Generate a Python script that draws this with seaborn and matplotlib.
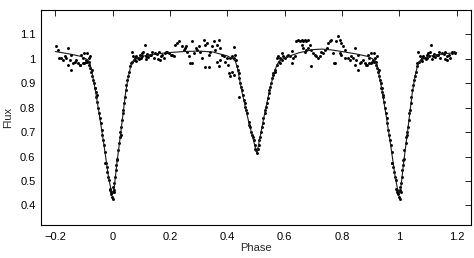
import numpy as np
import pandas as pd
import matplotlib
matplotlib.use("Agg")
import matplotlib.pyplot as plt
import seaborn as sns

ph_egress = [0.001,0.002,0.003,0.005,0.005,0.008,0.010,0.013,0.014,0.016,0.018,0.022,0.024,0.026,0.028,
             0.030,0.032,0.035,0.037,0.039,0.042,0.045,0.047,0.051,0.053,0.057,0.060,0.063,0.068,0.074,0.080]
fx_egress = [0.428,0.476,0.462,0.455,0.490,0.517,0.544,0.565,0.585,0.592,0.626,0.654,0.681,0.702,0.688,
             0.722,0.750,0.777,0.791,0.818,0.845,0.873,0.893,0.914,0.928,0.948,0.969,0.982,0.989,0.996,0.992]

ph_max1 = [0.066,0.072,0.078,0.083,0.089,0.095,0.101,0.104,0.107,0.112,0.118,0.124,0.130,0.138,0.149,0.161,
           0.167,0.173,0.178,0.184,0.190,0.202,0.213,0.219,0.225,0.231,0.242,0.248,0.254,0.257,0.260,0.265,
           0.271,0.277,0.277,0.283,0.289,0.294,0.300,0.306,0.312,0.317,0.321,0.323,0.329,0.335,0.335,0.341,
           0.346,0.352,0.358,0.364,0.370,0.375,0.381,0.364,0.370,0.375,0.387,0.393,0.399,0.404,0.410,0.416,
           0.422,0.424,0.428,0.431,
           0.092,0.098,0.115,0.121,0.135,0.143,0.155,0.158,0.165,0.185,0.195,0.207]
fx_max1 = [1.028,1.010,1.003,1.010,1.003,1.017,1.024,1.010,1.030,1.055,1.010,1.006,1.014,1.030,1.024,1.030,
           1.010,1.017,1.003,1.024,1.030,1.017,1.010,1.058,1.065,1.072,1.051,1.037,1.044,1.051,1.030,1.010,
           0.983,0.983,1.072,1.024,1.044,1.037,1.051,1.030,1.003,1.078,0.965,1.058,1.065,0.965,1.017,1.030,
           1.051,1.072,1.037,1.058,1.078,1.044,1.017,0.989,0.969,0.996,1.010,0.989,1.003,0.976,1.003,1.010,
           1.047,1.003,1.017,0.996,
           0.998,1.005,1.000,1.020,1.015,1.005,1.020,1.000,0.995,1.030,1.022,1.015]

ph_sec = [0.405,0.410,0.416,0.422,0.434,0.437,0.439,0.442,0.445,0.449,0.451,0.442,0.453,0.457,0.460,0.463,
          0.465,0.468,0.474,0.476,0.480,0.483,0.486,0.488,0.492,0.495,0.497,0.501,0.503,0.507,0.509,0.512,
          0.515,0.518,0.521,0.524,0.526,0.530,0.532,0.536,0.538,0.541,0.544,0.546,0.550,0.552,0.555,0.558,
          0.561,0.565,0.567,0.573,0.579,0.584,0.590]
fx_sec = [0.941,0.928,0.948,0.934,0.969,0.955,0.941,0.921,0.900,0.886,0.873,0.845,0.852,0.832,0.818,0.804,
          0.791,0.777,0.743,0.729,0.722,0.702,0.688,0.681,0.667,0.647,0.633,0.626,0.613,0.633,0.647,0.667,
          0.681,0.702,0.722,0.736,0.756,0.777,0.791,0.804,0.818,0.839,0.859,0.873,0.886,0.900,0.921,0.934,
          0.941,0.948,0.955,0.975,0.989,0.982,0.996]

ph_max2 = [0.572,0.578,0.583,0.589,0.595,0.601,0.607,0.612,0.618,0.624,0.624,0.630,0.636,0.641,0.647,0.653,
           0.659,0.665,0.670,0.676,0.682,0.659,0.665,0.670,0.676,0.682,0.688,0.693,0.699,0.705,0.711,0.717,
           0.722,0.691,0.728,0.734,0.740,0.746,0.751,0.757,0.763,0.769,0.772,0.777,0.780,0.786,0.792,0.798,
           0.804,0.809,0.798,0.812,0.821,0.827,0.833,0.838,0.844,0.844,0.850,0.856,0.862,0.867,0.873,0.879,
           0.885,0.856,0.792,0.886,0.889,0.895,0.895,0.901,0.907,0.912,0.916,0.918,0.921]
fx_max2 = [1.003,1.010,1.003,1.024,1.010,1.003,1.010,1.017,1.010,1.033,0.983,1.003,1.010,1.072,1.078,1.072,
           1.078,1.074,1.078,1.072,1.078,1.058,1.044,1.030,1.037,1.044,1.058,1.037,1.024,1.017,1.010,1.003,
           1.010,0.969,1.030,1.024,1.037,1.044,1.065,1.072,1.078,1.024,0.983,0.985,1.072,1.092,1.078,1.065,
           1.051,1.037,1.017,1.003,1.003,0.996,1.010,1.003,1.044,0.976,0.996,0.955,0.983,0.989,0.996,0.983,
           0.976,1.017,1.024,0.976,1.017,1.003,0.983,1.024,0.996,1.024,1.003,0.989,1.010]

ph_ingress = [0.900,0.906,0.912,0.918,0.921,0.926,0.929,0.933,0.935,0.937,0.941,0.943,0.947,0.949,0.952,0.956,
              0.958,0.962,0.964,0.968,0.970,0.973,0.974,0.976,0.979,0.981,0.984,0.987,0.990,0.991,0.993,0.995,
              0.997,0.999,0.928,0.939,0.944]
fx_ingress = [0.982,0.989,0.989,0.975,0.962,0.948,0.928,0.914,0.900,0.880,0.866,0.845,0.825,0.798,0.777,0.756,
              0.736,0.709,0.688,0.667,0.647,0.620,0.572,0.572,0.558,0.537,0.517,0.503,0.469,0.462,0.455,0.448,
              0.455,0.435,0.955,0.880,0.853]

# ---- fitted model over one cycle ----
model_phase = [0.0,0.005,0.015,0.03,0.045,0.055,0.062,0.07,0.08,0.1,0.15,0.2,0.25,0.3,0.35,0.4,0.42,0.428,
               0.435,0.45,0.475,0.503,0.53,0.55,0.565,0.573,0.58,0.6,0.65,0.7,0.73,0.76,0.8,0.85,0.89,0.91,
               0.918,0.925,0.93,0.94,0.955,0.97,0.985,0.995,1.0]
model_flux = [0.452,0.47,0.575,0.715,0.86,0.93,0.965,0.99,1.0,1.01,1.02,1.026,1.03,1.032,1.028,1.012,1.0,0.99,
              0.965,0.87,0.74,0.613,0.775,0.885,0.95,0.975,0.99,1.005,1.025,1.038,1.04,1.037,1.03,1.02,1.01,
              0.998,0.99,0.96,0.93,0.87,0.76,0.645,0.52,0.46,0.452]

x_ticks = [-0.2, 0, 0.2, 0.4, 0.6, 0.8, 1, 1.2]
x_labels = ["\u22120.2", "0", "0.2", "0.4", "0.6", "0.8", "1", "1.2"]
y_ticks = [0.4, 0.5, 0.6, 0.7, 0.8, 0.9, 1.0, 1.1]
y_labels = ["0.4", "0.5", "0.6", "0.7", "0.8", "0.9", "1", "1.1"]

# ---- build the folded display tables (phase -0.2 .. 1.2) ----
base = pd.DataFrame({
    "phase": ph_egress + ph_max1 + ph_sec + ph_max2 + ph_ingress,
    "flux": fx_egress + fx_max1 + fx_sec + fx_max2 + fx_ingress,
})
obs = pd.concat([
    base,
    base[base.phase >= 0.8].assign(phase=lambda d: d.phase - 1),
    base[base.phase <= 0.2].assign(phase=lambda d: d.phase + 1),
], ignore_index=True)

mbase = pd.DataFrame({"phase": model_phase, "flux": model_flux})
model = pd.concat([
    mbase[mbase.phase >= 0.8].assign(phase=lambda d: d.phase - 1),
    mbase,
    mbase[mbase.phase <= 0.2].assign(phase=lambda d: d.phase + 1),
], ignore_index=True).drop_duplicates("phase").sort_values("phase")

# ---- plot ----
sns.set_style("white")
plt.rcParams["font.family"] = ["Liberation Sans", "DejaVu Sans"]

fig = plt.figure(figsize=(4.74, 2.58), dpi=100)
ax = fig.add_axes([41/474, 33/258, 430/474, 215/258])

sns.lineplot(data=model, x="phase", y="flux", sort=False, estimator=None,
             color="#1a1a1a", linewidth=0.8, ax=ax)
sns.scatterplot(data=obs, x="phase", y="flux", color="black", s=4.5,
                linewidth=0, marker="o", ax=ax)

ax.set_xlim(-0.25, 1.25)
ax.set_ylim(0.32, 1.2)
ax.set_xticks(x_ticks)
ax.set_xticklabels(x_labels, fontsize=8)
ax.set_yticks(y_ticks)
ax.set_yticklabels(y_labels, fontsize=8)
ax.tick_params(direction="in", length=4, width=0.6, top=True, right=True,
               colors="black")
ax.tick_params(axis="x", pad=5)
ax.tick_params(axis="y", pad=4)
for s in ax.spines.values():
    s.set_visible(True)
    s.set_color("black")
    s.set_linewidth(0.8)
ax.set_xlabel("Phase", fontsize=8, labelpad=1)
ax.set_ylabel("Flux", fontsize=8, labelpad=5)

fig.savefig("out.png", dpi=100)
